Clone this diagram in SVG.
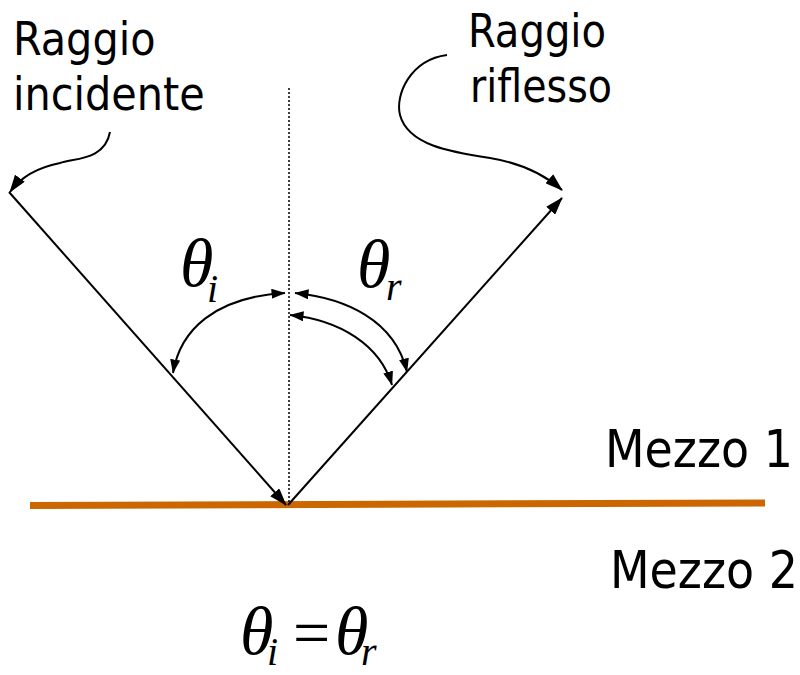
<svg xmlns="http://www.w3.org/2000/svg" width="800" height="675" viewBox="0 0 800 675">
<defs>
<style>
.lbl{font-family:"DejaVu Sans Condensed","DejaVu Sans",sans-serif;font-stretch:condensed;fill:#000}
.math{font-family:"Liberation Serif","Times New Roman",serif;font-style:italic;fill:#000}
.ln{fill:none;stroke:#000;stroke-width:2}
.arr{marker-end:url(#ah)}
.arr2{marker-start:url(#as);marker-end:url(#as)}
</style>
<marker id="ah" markerUnits="userSpaceOnUse" markerWidth="18" markerHeight="12" refX="17" refY="6" orient="auto-start-reverse" viewBox="0 0 18 12">
<path d="M0,0 L18,6 L0,12 z" fill="#000"/>
</marker>
<marker id="as" markerUnits="userSpaceOnUse" markerWidth="14" markerHeight="10" refX="13.5" refY="5" orient="auto-start-reverse" viewBox="0 0 14 10">
<path d="M0,0 L14,5 L0,10 z" fill="#000"/>
</marker>
</defs>
<rect width="800" height="675" fill="#fff"/>

<g id="interface">
<line x1="30" y1="505.5" x2="765" y2="503" stroke="#CC6600" stroke-width="7"/>
</g>

<g id="label-incidente">
<text class="lbl" x="13" y="55" font-size="46">Raggio</text>
<text class="lbl" x="13" y="110" font-size="46">incidente</text>
</g>
<g id="label-riflesso">
<text class="lbl" x="468" y="47" font-size="46" textLength="138" lengthAdjust="spacingAndGlyphs">Raggio</text>
<text class="lbl" x="470" y="102" font-size="46" textLength="142" lengthAdjust="spacingAndGlyphs">riflesso</text>
</g>
<g id="label-mezzo1">
<text class="lbl" x="605" y="467" font-size="51">Mezzo 1</text>
</g>
<g id="label-mezzo2">
<text class="lbl" x="610" y="588" font-size="51">Mezzo 2</text>
</g>
<g id="label-theta-i">
<text class="math" x="180" y="286" font-size="68">θ</text>
<text class="math" x="207" y="302" font-size="40">i</text>
</g>
<g id="label-theta-r">
<text class="math" x="357" y="287" font-size="68">θ</text>
<text class="math" x="386" y="300" font-size="40">r</text>
</g>
<g id="equation">
<text class="math" x="240" y="654" font-size="68">θ</text>
<text class="math" x="267" y="665" font-size="40">i</text>
<text x="293" y="655" font-size="66" font-family="Liberation Serif,serif" fill="#000">=</text>
<text class="math" x="335" y="654" font-size="68">θ</text>
<text class="math" x="361" y="665" font-size="40">r</text>
</g>

<g id="connectors">
<line x1="289" y1="88" x2="289" y2="505" stroke="#000" stroke-width="1.5" stroke-dasharray="2,2"/>
<line class="ln arr" x1="9" y1="192" x2="286" y2="505"/>
<line class="ln arr" x1="288" y1="505" x2="562" y2="198"/>
<path class="ln arr2" d="M173,373 C180,330 215,297 285,293"/>
<path class="ln arr2" d="M295,293 C345,298 395,320 407,372"/>
<path class="ln arr2" d="M290,315 C340,320 380,345 392,385"/>
<path class="ln arr" d="M110,132 C105,160 75,158 60,163 C35,168 20,178 10,192"/>
<path class="ln arr" d="M447,55 C410,60 395,95 400,115 C408,145 450,152 490,158 C520,163 545,175 562,190"/>
</g>
</svg>
